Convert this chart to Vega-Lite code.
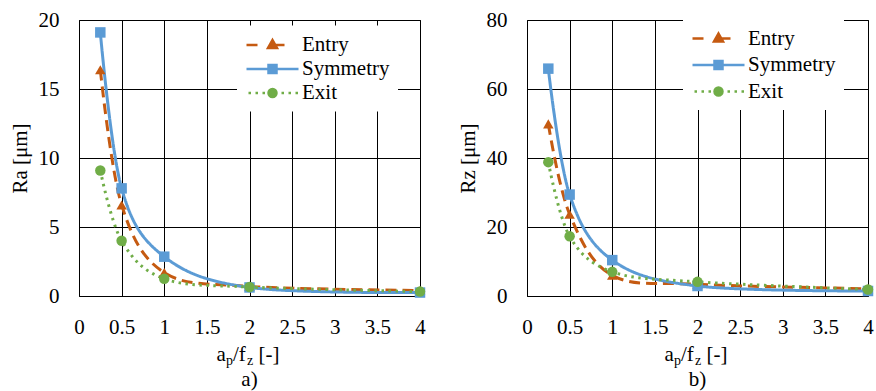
{
  "$schema": "https://vega.github.io/schema/vega-lite/v6.json",
  "background": "white",
  "padding": {"left": 8, "top": 8, "right": 2, "bottom": 0},
  "config": {
    "font": "Liberation Serif",
    "view": {"stroke": "#000", "strokeWidth": 1},
    "axis": {"grid": true, "gridColor": "#000", "gridOpacity": 1, "gridWidth": 1, "domain": false, "ticks": false, "labelFont": "Liberation Serif", "titleFont": "Liberation Serif", "labelFontSize": 21, "titleFontSize": 21, "labelColor": "#000", "titleColor": "#000", "titleFontWeight": "normal", "labelPadding": 20, "labelFlush": false, "labelOverlap": false},
    "axisY": {"titlePadding": 8},
    "text": {"font": "Liberation Serif", "color": "#000"}
  },
  "datasets": {
    "d": [
      {"panel": "Ra", "series": "Entry", "x": 0.25, "y": 16.4},
      {"panel": "Ra", "series": "Entry", "x": 0.5, "y": 6.6},
      {"panel": "Ra", "series": "Entry", "x": 1, "y": 1.7},
      {"panel": "Ra", "series": "Entry", "x": 2, "y": 0.7},
      {"panel": "Ra", "series": "Entry", "x": 4, "y": 0.4},
      {"panel": "Ra", "series": "Symmetry", "x": 0.25, "y": 19.1},
      {"panel": "Ra", "series": "Symmetry", "x": 0.5, "y": 7.8},
      {"panel": "Ra", "series": "Symmetry", "x": 1, "y": 2.85},
      {"panel": "Ra", "series": "Symmetry", "x": 2, "y": 0.62},
      {"panel": "Ra", "series": "Symmetry", "x": 4, "y": 0.25},
      {"panel": "Ra", "series": "Exit", "x": 0.25, "y": 9.1},
      {"panel": "Ra", "series": "Exit", "x": 0.5, "y": 4.0},
      {"panel": "Ra", "series": "Exit", "x": 1, "y": 1.25},
      {"panel": "Ra", "series": "Exit", "x": 2, "y": 0.65},
      {"panel": "Ra", "series": "Exit", "x": 4, "y": 0.32},
      {"panel": "Rz", "series": "Entry", "x": 0.25, "y": 49.9},
      {"panel": "Rz", "series": "Entry", "x": 0.5, "y": 23.7},
      {"panel": "Rz", "series": "Entry", "x": 1, "y": 6.0},
      {"panel": "Rz", "series": "Entry", "x": 2, "y": 3.4},
      {"panel": "Rz", "series": "Entry", "x": 4, "y": 2.1},
      {"panel": "Rz", "series": "Symmetry", "x": 0.25, "y": 65.9},
      {"panel": "Rz", "series": "Symmetry", "x": 0.5, "y": 29.4},
      {"panel": "Rz", "series": "Symmetry", "x": 1, "y": 10.4},
      {"panel": "Rz", "series": "Symmetry", "x": 2, "y": 2.9},
      {"panel": "Rz", "series": "Symmetry", "x": 4, "y": 1.45},
      {"panel": "Rz", "series": "Exit", "x": 0.25, "y": 38.8},
      {"panel": "Rz", "series": "Exit", "x": 0.5, "y": 17.3},
      {"panel": "Rz", "series": "Exit", "x": 1, "y": 7.0},
      {"panel": "Rz", "series": "Exit", "x": 2, "y": 4.1},
      {"panel": "Rz", "series": "Exit", "x": 4, "y": 1.9}
    ]
  },
  "resolve": {"scale": {"color": "independent", "strokeDash": "independent", "shape": "independent"}, "legend": {"color": "independent", "shape": "independent", "strokeDash": "independent"}},
  "spacing": 107,
  "bounds": "flush",
  "hconcat": [
    {
      "width": 341,
      "height": 276,
      "layer": [
        {
          "data": {"name": "d"},
          "transform": [{"filter": "datum.panel === 'Ra'"}],
          "mark": {"type": "line", "interpolate": "cardinal", "strokeWidth": 3},
          "encoding": {
            "x": {"field": "x", "type": "quantitative", "scale": {"domain": [0, 4], "nice": false}, "axis": {"values": [0, 0.5, 1, 1.5, 2, 2.5, 3, 3.5, 4], "format": "~g", "title": null, "labelFont": "Liberation Serif", "labelFontSize": 21}},
            "y": {"field": "y", "type": "quantitative", "scale": {"domain": [0, 20], "nice": false}, "axis": {"values": [0, 5, 10, 15, 20], "title": "Ra [μm]", "labelFont": "Liberation Serif", "titleFont": "Liberation Serif", "labelFontSize": 21, "titleFontSize": 21}},
            "color": {"field": "series", "type": "nominal", "scale": {"domain": ["Entry", "Symmetry", "Exit"], "range": ["#C55A11", "#5B9BD5", "#70AD47"]}},
            "strokeDash": {"field": "series", "type": "nominal", "scale": {"domain": ["Symmetry", "Entry", "Exit"], "range": [[1, 0], [11, 6], [2.5, 4.5]]}, "legend": null}
          }
        },
        {
          "data": {"name": "d"},
          "transform": [{"filter": "datum.panel === 'Ra'"}],
          "mark": {"type": "point", "filled": true, "opacity": 1, "size": 110},
          "encoding": {
            "x": {"field": "x", "type": "quantitative"},
            "y": {"field": "y", "type": "quantitative"},
            "shape": {"field": "series", "type": "nominal", "scale": {"domain": ["Symmetry", "Entry", "Exit"], "range": ["square", "triangle-up", "circle"]}, "legend": null},
            "color": {"field": "series", "type": "nominal", "scale": {"domain": ["Entry", "Symmetry", "Exit"], "range": ["#C55A11", "#5B9BD5", "#70AD47"]},
              "legend": {"orient": "none", "legendX": 158, "legendY": 5.5, "title": null, "fillColor": "white", "padding": 8, "symbolSize": 400, "symbolStrokeWidth": 2.5, "labelFontSize": 21, "labelFont": "Liberation Serif", "labelColor": "#000", "labelOffset": 34, "rowPadding": 2,
                "encoding": {"symbols": {
                  "shape": {"value": {"expr": "datum.value==='Entry'?'M-1,0H0.1M1.6,0H2.8M1.6,-0.5L2.05,0.3L1.15,0.3Z':datum.value==='Symmetry'?'M-1,0H4.2M1.2,-0.4H2V0.4H1.2Z':'M-0.8,0h0.25M-0.1,0h0.25M0.6,0h0.25M2.5,0h0.25M3.2,0h0.25M3.9,0h0.25M2,0A0.4,0.4,0,1,1,1.2,0A0.4,0.4,0,1,1,2,0Z'"}},
                  "fill": {"value": {"expr": "datum.value==='Entry'?'#C55A11':datum.value==='Symmetry'?'#5B9BD5':'#70AD47'"}},
                  "stroke": {"value": {"expr": "datum.value==='Entry'?'#C55A11':datum.value==='Symmetry'?'#5B9BD5':'#70AD47'"}},
                  "strokeWidth": {"value": 2.5},
                  "size": {"value": 400},
                  "opacity": {"value": 1}
                }}}
            }
          }
        },
        {"data": {"values": [{"t": "a"}]}, "mark": {"type": "text", "align": "left", "baseline": "alphabetic", "dx": -33, "dy": 65, "fontSize": 21}, "encoding": {"x": {"datum": 2, "type": "quantitative"}, "y": {"datum": 0, "type": "quantitative"}, "text": {"field": "t"}}},
        {"data": {"values": [{"t": "p"}]}, "mark": {"type": "text", "align": "left", "baseline": "alphabetic", "dx": -23.5, "dy": 69, "fontSize": 14}, "encoding": {"x": {"datum": 2, "type": "quantitative"}, "y": {"datum": 0, "type": "quantitative"}, "text": {"field": "t"}}},
        {"data": {"values": [{"t": "/f"}]}, "mark": {"type": "text", "align": "left", "baseline": "alphabetic", "dx": -16.5, "dy": 65, "fontSize": 21}, "encoding": {"x": {"datum": 2, "type": "quantitative"}, "y": {"datum": 0, "type": "quantitative"}, "text": {"field": "t"}}},
        {"data": {"values": [{"t": "z"}]}, "mark": {"type": "text", "align": "left", "baseline": "alphabetic", "dx": -2.5, "dy": 69, "fontSize": 14}, "encoding": {"x": {"datum": 2, "type": "quantitative"}, "y": {"datum": 0, "type": "quantitative"}, "text": {"field": "t"}}},
        {"data": {"values": [{"t": "[-]"}]}, "mark": {"type": "text", "align": "left", "baseline": "alphabetic", "dx": 9, "dy": 65, "fontSize": 21}, "encoding": {"x": {"datum": 2, "type": "quantitative"}, "y": {"datum": 0, "type": "quantitative"}, "text": {"field": "t"}}},
        {"data": {"values": [{"t": "a)"}]}, "mark": {"type": "text", "align": "center", "baseline": "alphabetic", "dx": 0, "dy": 90, "fontSize": 21}, "encoding": {"x": {"datum": 2, "type": "quantitative"}, "y": {"datum": 0, "type": "quantitative"}, "text": {"field": "t"}}}
      ]
    },
    {
      "width": 341,
      "height": 276,
      "layer": [
        {
          "data": {"name": "d"},
          "transform": [{"filter": "datum.panel === 'Rz'"}],
          "mark": {"type": "line", "interpolate": "cardinal", "strokeWidth": 3},
          "encoding": {
            "x": {"field": "x", "type": "quantitative", "scale": {"domain": [0, 4], "nice": false}, "axis": {"values": [0, 0.5, 1, 1.5, 2, 2.5, 3, 3.5, 4], "format": "~g", "title": null, "labelFont": "Liberation Serif", "labelFontSize": 21}},
            "y": {"field": "y", "type": "quantitative", "scale": {"domain": [0, 80], "nice": false}, "axis": {"values": [0, 20, 40, 60, 80], "title": "Rz [μm]", "labelFont": "Liberation Serif", "titleFont": "Liberation Serif", "labelFontSize": 21, "titleFontSize": 21}},
            "color": {"field": "series", "type": "nominal", "scale": {"domain": ["Entry", "Symmetry", "Exit"], "range": ["#C55A11", "#5B9BD5", "#70AD47"]}},
            "strokeDash": {"field": "series", "type": "nominal", "scale": {"domain": ["Symmetry", "Entry", "Exit"], "range": [[1, 0], [11, 6], [2.5, 4.5]]}, "legend": null}
          }
        },
        {
          "data": {"name": "d"},
          "transform": [{"filter": "datum.panel === 'Rz'"}],
          "mark": {"type": "point", "filled": true, "opacity": 1, "size": 110},
          "encoding": {
            "x": {"field": "x", "type": "quantitative"},
            "y": {"field": "y", "type": "quantitative"},
            "shape": {"field": "series", "type": "nominal", "scale": {"domain": ["Symmetry", "Entry", "Exit"], "range": ["square", "triangle-up", "circle"]}, "legend": null},
            "color": {"field": "series", "type": "nominal", "scale": {"domain": ["Entry", "Symmetry", "Exit"], "range": ["#C55A11", "#5B9BD5", "#70AD47"]},
              "legend": {"orient": "none", "legendX": 156, "legendY": -1, "title": null, "fillColor": "white", "padding": 8, "symbolSize": 400, "symbolStrokeWidth": 2.5, "labelFontSize": 21, "labelFont": "Liberation Serif", "labelColor": "#000", "labelOffset": 34, "rowPadding": 4.5,
                "encoding": {"symbols": {
                  "shape": {"value": {"expr": "datum.value==='Entry'?'M-1,0H0.1M1.6,0H2.8M1.6,-0.5L2.05,0.3L1.15,0.3Z':datum.value==='Symmetry'?'M-1,0H4.2M1.2,-0.4H2V0.4H1.2Z':'M-0.8,0h0.25M-0.1,0h0.25M0.6,0h0.25M2.5,0h0.25M3.2,0h0.25M3.9,0h0.25M2,0A0.4,0.4,0,1,1,1.2,0A0.4,0.4,0,1,1,2,0Z'"}},
                  "fill": {"value": {"expr": "datum.value==='Entry'?'#C55A11':datum.value==='Symmetry'?'#5B9BD5':'#70AD47'"}},
                  "stroke": {"value": {"expr": "datum.value==='Entry'?'#C55A11':datum.value==='Symmetry'?'#5B9BD5':'#70AD47'"}},
                  "strokeWidth": {"value": 2.5},
                  "size": {"value": 400},
                  "opacity": {"value": 1}
                }}}
            }
          }
        },
        {"data": {"values": [{"t": "a"}]}, "mark": {"type": "text", "align": "left", "baseline": "alphabetic", "dx": -33, "dy": 65, "fontSize": 21}, "encoding": {"x": {"datum": 2, "type": "quantitative"}, "y": {"datum": 0, "type": "quantitative"}, "text": {"field": "t"}}},
        {"data": {"values": [{"t": "p"}]}, "mark": {"type": "text", "align": "left", "baseline": "alphabetic", "dx": -23.5, "dy": 69, "fontSize": 14}, "encoding": {"x": {"datum": 2, "type": "quantitative"}, "y": {"datum": 0, "type": "quantitative"}, "text": {"field": "t"}}},
        {"data": {"values": [{"t": "/f"}]}, "mark": {"type": "text", "align": "left", "baseline": "alphabetic", "dx": -16.5, "dy": 65, "fontSize": 21}, "encoding": {"x": {"datum": 2, "type": "quantitative"}, "y": {"datum": 0, "type": "quantitative"}, "text": {"field": "t"}}},
        {"data": {"values": [{"t": "z"}]}, "mark": {"type": "text", "align": "left", "baseline": "alphabetic", "dx": -2.5, "dy": 69, "fontSize": 14}, "encoding": {"x": {"datum": 2, "type": "quantitative"}, "y": {"datum": 0, "type": "quantitative"}, "text": {"field": "t"}}},
        {"data": {"values": [{"t": "[-]"}]}, "mark": {"type": "text", "align": "left", "baseline": "alphabetic", "dx": 9, "dy": 65, "fontSize": 21}, "encoding": {"x": {"datum": 2, "type": "quantitative"}, "y": {"datum": 0, "type": "quantitative"}, "text": {"field": "t"}}},
        {"data": {"values": [{"t": "b)"}]}, "mark": {"type": "text", "align": "center", "baseline": "alphabetic", "dx": 0, "dy": 90, "fontSize": 21}, "encoding": {"x": {"datum": 2, "type": "quantitative"}, "y": {"datum": 0, "type": "quantitative"}, "text": {"field": "t"}}}
      ]
    }
  ]
}
